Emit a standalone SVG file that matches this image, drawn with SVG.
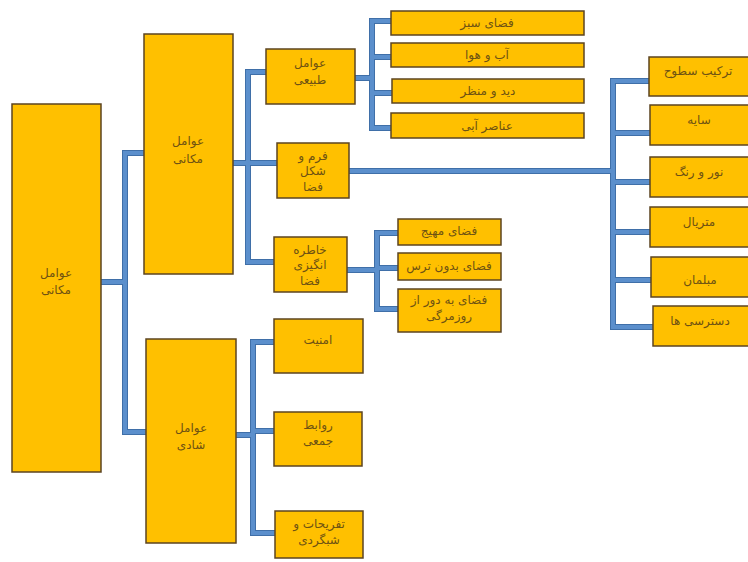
<svg xmlns="http://www.w3.org/2000/svg" width="748" height="562" viewBox="0 0 748 562">
<style>
.box{fill:#FFC000;stroke:#5c4420;stroke-width:1.5}
.t{font-family:"DejaVu Sans","Noto Sans",sans-serif;font-size:12px;fill:#6e5213;text-anchor:middle;direction:rtl}
.cu{fill:none;stroke:#3f6fa8;stroke-width:6;stroke-linejoin:miter}
.c{fill:none;stroke:#5b8fcc;stroke-width:4;stroke-linejoin:miter}
</style>
<rect width="748" height="562" fill="#fff"/>
<g id="connectors">
<g class="cu">
<path d="M101,282 H125 V153 H144 M125,282 V432 H146"/>
<path d="M233,163 H248 V72 H266 M233,163 H277 M248,163 V262 H274"/>
<path d="M355,78 H372 V21 H391 M372,57 H391 M372,93 H392 M372,78 V128 H391"/>
<path d="M349,171 H613 V81 H649 M613,133 H650 M613,182 H650 M613,232 H650 M613,280 H651 M613,171 V327 H653"/>
<path d="M347,270 H377 V233 H398 M377,268 H398 M377,270 V309 H398"/>
<path d="M236,435 H253 V342 H274 M253,431 H274 M253,435 V533 H275"/>
</g>
<g class="c">
<path d="M101,282 H125 V153 H144 M125,282 V432 H146"/>
<path d="M233,163 H248 V72 H266 M233,163 H277 M248,163 V262 H274"/>
<path d="M355,78 H372 V21 H391 M372,57 H391 M372,93 H392 M372,78 V128 H391"/>
<path d="M349,171 H613 V81 H649 M613,133 H650 M613,182 H650 M613,232 H650 M613,280 H651 M613,171 V327 H653"/>
<path d="M347,270 H377 V233 H398 M377,268 H398 M377,270 V309 H398"/>
<path d="M236,435 H253 V342 H274 M253,431 H274 M253,435 V533 H275"/>
</g>
</g>
<g id="root"><rect class="box" x="12" y="104" width="89" height="368"/><text class="t" x="56" y="277">عوامل</text><text class="t" x="56" y="294">مکانی</text></g>
<g id="makani"><rect class="box" x="144" y="34" width="89" height="240"/><text class="t" x="188" y="145">عوامل</text><text class="t" x="188" y="163">مکانی</text></g>
<g id="shadi"><rect class="box" x="146" y="339" width="90" height="204"/><text class="t" x="191" y="432">عوامل</text><text class="t" x="191" y="449">شادی</text></g>
<g id="tabiei"><rect class="box" x="266" y="49" width="89" height="55"/><text class="t" x="310" y="67">عوامل</text><text class="t" x="310" y="84">طبیعی</text></g>
<g id="form"><rect class="box" x="277" y="143" width="72" height="55"/><text class="t" x="313" y="160">فرم و</text><text class="t" x="313" y="175">شکل</text><text class="t" x="313" y="191">فضا</text></g>
<g id="khatere"><rect class="box" x="274" y="237" width="73" height="55"/><text class="t" x="310" y="254">خاطره</text><text class="t" x="310" y="269">انگیزی</text><text class="t" x="310" y="285">فضا</text></g>
<g id="sabz"><rect class="box" x="391" y="11" width="193" height="24"/><text class="t" x="487" y="27">فضای سبز</text></g>
<g id="abohava"><rect class="box" x="391" y="43" width="193" height="24"/><text class="t" x="487" y="59">آب و هوا</text></g>
<g id="did"><rect class="box" x="392" y="79" width="192" height="24"/><text class="t" x="488" y="95">دید و منظر</text></g>
<g id="anasor"><rect class="box" x="391" y="113" width="193" height="25"/><text class="t" x="487" y="130">عناصر آبی</text></g>
<g id="mohayej"><rect class="box" x="398" y="219" width="103" height="26"/><text class="t" x="449" y="235">فضای مهیج</text></g>
<g id="bedoon"><rect class="box" x="398" y="253" width="103" height="27"/><text class="t" x="449" y="270">فضای بدون ترس</text></g>
<g id="roozmaregi"><rect class="box" x="398" y="289" width="103" height="43"/><text class="t" x="449" y="304">فضای به دور از</text><text class="t" x="449" y="320">روزمرگی</text></g>
<g id="tarkib"><rect class="box" x="649" y="57" width="110" height="39"/><text class="t" x="698" y="75">ترکیب سطوح</text></g>
<g id="saye"><rect class="box" x="650" y="105" width="110" height="40"/><text class="t" x="699" y="124">سایه</text></g>
<g id="noor"><rect class="box" x="650" y="157" width="110" height="40"/><text class="t" x="699" y="176">نور و رنگ</text></g>
<g id="material"><rect class="box" x="650" y="207" width="110" height="40"/><text class="t" x="699" y="226">متریال</text></g>
<g id="mobleman"><rect class="box" x="651" y="257" width="110" height="40"/><text class="t" x="700" y="284">مبلمان</text></g>
<g id="dastresi"><rect class="box" x="653" y="306" width="110" height="40"/><text class="t" x="700" y="325">دسترسی ها</text></g>
<g id="amniat"><rect class="box" x="274" y="319" width="89" height="54"/><text class="t" x="318" y="344">امنیت</text></g>
<g id="ravabet"><rect class="box" x="274" y="412" width="88" height="54"/><text class="t" x="318" y="429">روابط</text><text class="t" x="318" y="445">جمعی</text></g>
<g id="tafrihat"><rect class="box" x="275" y="511" width="88" height="47"/><text class="t" x="319" y="528">تفریحات و</text><text class="t" x="319" y="544">شبگردی</text></g>
</svg>
